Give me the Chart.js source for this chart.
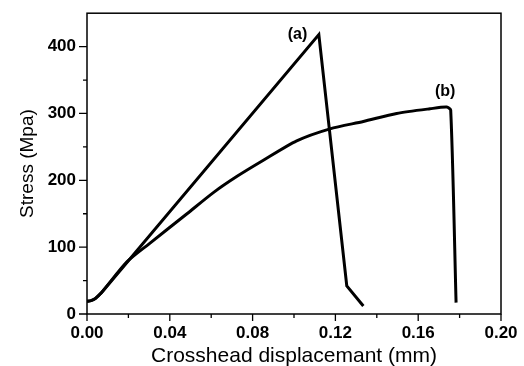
<!DOCTYPE html>
<html>
<head>
<meta charset="utf-8">
<script src="https://cdn.jsdelivr.net/npm/chart.js@4"></script>
<style>
html,body{margin:0;padding:0;background:#fff;}
#wrap{width:524px;height:366px;}
</style>
</head>
<body>
<div id="wrap"><canvas id="c" width="524" height="366"></canvas></div>
<script>
// Data
const curveA_x = [0, 0.002, 0.004, 0.007, 0.112, 0.1255, 0.1335];
const curveA_y = [19, 20, 23, 32, 418, 42, 12];
const curveB_x = [0, 0.002, 0.004, 0.007, 0.0193, 0.030, 0.0483, 0.0612, 0.0725, 0.0852, 0.1013, 0.1174, 0.1335, 0.1496, 0.1657, 0.1738, 0.1757, 0.1783];
const curveB_y = [19, 20, 23, 32, 78, 105, 150, 182, 206, 230, 259, 277, 288, 300, 307, 309.5, 305, 17];
const xTickValues = [0, 0.04, 0.08, 0.12, 0.16, 0.20];
const yTickValues = [0, 100, 200, 300, 400];
const annotations = [{text: '(a)', x: 0.1017, y: 418}, {text: '(b)', x: 0.173, y: 332}];

const toPts = (xs, ys) => xs.map((x, i) => ({x: x, y: ys[i]}));
const near = (v, arr) => arr.some(a => Math.abs(a - v) < 1e-6);
const FAMILY = '"Liberation Sans", Arial, sans-serif';

const frame = {
  id: 'frame',
  afterDraw(chart) {
    const ctx = chart.ctx, a = chart.chartArea;
    const xs = chart.scales.x, ys = chart.scales.y;
    ctx.save();
    ctx.strokeStyle = '#000';
    ctx.lineWidth = 1.5;
    ctx.strokeRect(a.left, a.top, a.right - a.left, a.bottom - a.top);
    ctx.lineWidth = 1.3;
    ctx.beginPath();
    xs.ticks.forEach(t => {
      const px = xs.getPixelForValue(t.value);
      const len = near(t.value, xTickValues) ? 7 : 4;
      ctx.moveTo(px, a.bottom); ctx.lineTo(px, a.bottom + len);
    });
    ys.ticks.forEach(t => {
      if (t.value > 440) return;
      const py = ys.getPixelForValue(t.value);
      const len = near(t.value, yTickValues) ? 8 : 4;
      ctx.moveTo(a.left, py); ctx.lineTo(a.left - len, py);
    });
    ctx.stroke();
    ctx.fillStyle = '#000';
    ctx.font = 'bold 16px ' + FAMILY;
    ctx.textAlign = 'center';
    ctx.textBaseline = 'middle';
    annotations.forEach(n => {
      ctx.fillText(n.text, xs.getPixelForValue(n.x), ys.getPixelForValue(n.y));
    });
    ctx.restore();
  }
};

new Chart(document.getElementById('c'), {
  type: 'scatter',
  data: {
    datasets: [
      {label: '(a)', data: toPts(curveA_x, curveA_y), showLine: true, borderColor: '#000', borderWidth: 3, pointRadius: 0, tension: 0, fill: false},
      {label: '(b)', data: toPts(curveB_x, curveB_y), showLine: true, borderColor: '#000', borderWidth: 3, pointRadius: 0, tension: 0.25, fill: false}
    ]
  },
  options: {
    responsive: false,
    animation: false,
    layout: {padding: {left: 0, right: 23, top: 12, bottom: 0}},
    plugins: {legend: {display: false}, tooltip: {enabled: false}},
    scales: {
      x: {
        type: 'linear', min: 0, max: 0.2,
        border: {display: false},
        grid: {display: true, drawOnChartArea: false, drawTicks: true, tickLength: 7, color: 'rgba(0,0,0,0)'},
        ticks: {
          stepSize: 0.02, padding: 2, color: '#000', maxRotation: 0, autoSkip: false,
          font: {family: FAMILY, size: 17, weight: 'bold'},
          callback: v => near(v, xTickValues) ? v.toFixed(2) : ''
        },
        title: {display: true, text: 'Crosshead displacemant (mm)', color: '#000', padding: {top: 0, bottom: -3},
          font: {family: FAMILY, size: 21}},
        afterFit: s => { s.height = 52; }
      },
      y: {
        type: 'linear', min: 0, max: 450,
        border: {display: false},
        grid: {display: true, drawOnChartArea: false, drawTicks: true, tickLength: 8, color: 'rgba(0,0,0,0)'},
        ticks: {
          stepSize: 50, padding: 3, color: '#000', autoSkip: false,
          font: {family: FAMILY, size: 17, weight: 'bold'},
          callback: v => near(v, yTickValues) ? String(v) : ''
        },
        title: {display: true, text: 'Stress (Mpa)', color: '#000', padding: {top: 16, bottom: 4},
          font: {family: FAMILY, size: 19}},
        afterFit: s => { s.width = 87; }
      }
    }
  },
  plugins: [frame]
});
</script>
</body>
</html>
